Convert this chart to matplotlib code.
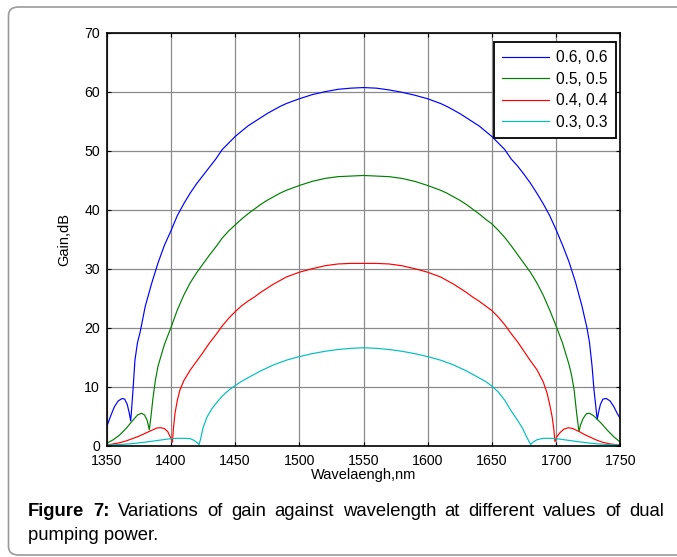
import numpy as np
import matplotlib
matplotlib.use('Agg')
import matplotlib.pyplot as plt
from matplotlib.patches import FancyBboxPatch

plt.rcParams['font.family'] = ['Liberation Sans', 'DejaVu Sans']

# gain curves (wavelength nm, gain dB)
wl_06 = [1350, 1353, 1356, 1359, 1362, 1364, 1366, 1367.5, 1368.7, 1369.5, 1370.5, 1372,
         1374, 1376, 1380, 1385, 1390, 1395, 1400, 1405, 1410, 1415, 1420, 1425, 1430,
         1435, 1440, 1445, 1450, 1455, 1460, 1465, 1470, 1475, 1480, 1485, 1490, 1495,
         1500, 1510, 1520, 1530, 1540, 1550, 1560, 1570, 1580, 1590, 1600, 1605, 1610,
         1615, 1620, 1625, 1630, 1635, 1640, 1645, 1650, 1655, 1660, 1665, 1670, 1675,
         1680, 1685, 1690, 1695, 1700, 1705, 1710, 1715, 1720, 1724, 1726, 1728, 1729.5,
         1731, 1732, 1733, 1734.5, 1736.5, 1739, 1742, 1745, 1748, 1750]
gain_06 = [3.2, 5.0, 6.6, 7.6, 8.0, 7.9, 7.0, 5.6, 4.2, 6.5, 9.5, 14.5,
           17.5, 19.2, 23.6, 27.5, 31.0, 34.0, 36.4, 39.0, 41.0, 42.8, 44.4, 45.8, 47.2,
           48.6, 50.2, 51.3, 52.4, 53.3, 54.2, 54.9, 55.6, 56.3, 56.9, 57.5, 58.0, 58.4,
           58.8, 59.5, 60.0, 60.4, 60.6, 60.7, 60.6, 60.3, 59.9, 59.4, 58.8, 58.4, 58.0,
           57.5, 56.9, 56.3, 55.6, 54.9, 54.2, 53.3, 52.4, 51.3, 50.2, 48.6, 47.4, 46.0,
           44.5, 42.8, 41.0, 39.0, 36.6, 34.0, 31.2, 27.8, 23.8, 20.0, 17.5, 13.5, 9.5,
           6.5, 4.4, 5.6, 7.0, 7.9, 8.0, 7.6, 6.6, 5.3, 4.6]

wl_05 = [1350, 1355, 1360, 1365, 1370, 1374, 1377, 1379.5, 1381.5, 1383.2, 1384.5, 1386,
         1388, 1390, 1395, 1400, 1405, 1410, 1415, 1420, 1425, 1430, 1435, 1440, 1445,
         1450, 1455, 1460, 1465, 1470, 1475, 1480, 1485, 1490, 1495, 1500, 1510, 1520,
         1530, 1540, 1550, 1560, 1570, 1580, 1590, 1600, 1605, 1610, 1615, 1620, 1625,
         1630, 1635, 1640, 1645, 1650, 1655, 1660, 1665, 1670, 1675, 1680, 1685, 1690,
         1695, 1700, 1705, 1710, 1712, 1714, 1716, 1717.8, 1719, 1721, 1723.5, 1726, 1729,
         1732, 1736, 1740, 1745, 1750]
gain_05 = [0.4, 1.0, 1.8, 2.9, 4.2, 5.2, 5.5, 5.2, 4.3, 2.7, 5.0, 8.0,
           11.2, 13.5, 17.2, 20.0, 23.0, 25.5, 27.6, 29.3, 30.8, 32.3, 33.7, 35.2, 36.4,
           37.4, 38.4, 39.3, 40.1, 40.9, 41.6, 42.2, 42.8, 43.3, 43.7, 44.1, 44.8, 45.3,
           45.6, 45.7, 45.8, 45.7, 45.6, 45.3, 44.8, 44.1, 43.7, 43.3, 42.8, 42.2, 41.6,
           40.9, 40.1, 39.3, 38.4, 37.6, 36.5, 35.3, 33.9, 32.4, 30.9, 29.4, 27.6, 25.5,
           23.0, 20.3, 17.4, 13.8, 12.0, 9.5, 5.5, 2.4, 3.5, 4.6, 5.4, 5.5, 5.1,
           4.5, 3.6, 2.6, 1.5, 0.6]

wl_04 = [1350, 1360, 1365, 1370, 1375, 1380, 1385, 1389, 1392, 1395, 1397.5, 1399.5,
         1401.2, 1402, 1403.2, 1405, 1407, 1410, 1415, 1420, 1425, 1430, 1435, 1440, 1445,
         1450, 1455, 1460, 1465, 1470, 1475, 1480, 1485, 1490, 1495, 1500, 1510, 1520,
         1530, 1540, 1550, 1560, 1570, 1580, 1590, 1600, 1605, 1610, 1615, 1620, 1625,
         1630, 1635, 1640, 1645, 1650, 1655, 1660, 1665, 1670, 1675, 1680, 1685, 1690,
         1693, 1695, 1697, 1698.3, 1699.1, 1700.5, 1703, 1706, 1709.5, 1713, 1718, 1722,
         1726, 1731, 1736, 1742, 1750]
gain_04 = [0.1, 0.5, 0.8, 1.2, 1.6, 2.1, 2.6, 3.0, 3.05, 2.9, 2.4, 1.5,
           0.6, 3.0, 5.5, 7.7, 9.4, 11.0, 12.8, 14.3, 15.8, 17.4, 18.8, 20.3, 21.6,
           22.7, 23.7, 24.5, 25.2, 26.0, 26.7, 27.4, 28.0, 28.6, 29.0, 29.4, 30.0, 30.5,
           30.8, 30.9, 30.9, 30.9, 30.8, 30.5, 30.0, 29.4, 29.0, 28.6, 28.0, 27.4, 26.7,
           26.0, 25.2, 24.5, 23.7, 22.9, 21.8, 20.5, 19.0, 17.6, 16.0, 14.4, 12.9, 10.8,
           8.9, 7.0, 4.8, 2.6, 0.7, 1.5, 2.2, 2.8, 3.05, 2.9, 2.4, 1.9,
           1.5, 1.0, 0.6, 0.3, 0.1]

wl_03 = [1350, 1360, 1370, 1380, 1390, 1400, 1405, 1410, 1415, 1418, 1420.5, 1422,
         1423.5, 1425, 1428, 1432, 1436, 1440, 1445, 1450, 1455, 1460, 1465, 1470, 1475,
         1480, 1485, 1490, 1495, 1500, 1510, 1520, 1530, 1540, 1550, 1560, 1570, 1580,
         1590, 1600, 1605, 1610, 1615, 1620, 1625, 1630, 1635, 1640, 1645, 1650, 1655,
         1660, 1665, 1670, 1674, 1677, 1680.2, 1682, 1685, 1690, 1695, 1700, 1710, 1720,
         1730, 1740, 1750]
gain_03 = [0.1, 0.2, 0.35, 0.6, 0.9, 1.2, 1.25, 1.25, 1.2, 0.9, 0.5, 0.2,
           1.5, 3.0, 4.8, 6.3, 7.4, 8.4, 9.4, 10.2, 10.9, 11.5, 12.1, 12.7, 13.2,
           13.7, 14.1, 14.5, 14.8, 15.1, 15.6, 16.0, 16.3, 16.5, 16.6, 16.5, 16.3, 16.0,
           15.6, 15.1, 14.8, 14.5, 14.1, 13.7, 13.2, 12.7, 12.1, 11.5, 10.9, 10.1, 9.1,
           7.7, 5.9, 4.3, 2.9, 1.5, 0.2, 0.6, 1.0, 1.25, 1.25, 1.2, 0.9, 0.6,
           0.35, 0.2, 0.1]

labels = ['0.6, 0.6', '0.5, 0.5', '0.4, 0.4', '0.3, 0.3']
colors = ['#0000ff', '#008000', '#ff0000', '#00bfbf']
x_ticks = [1350, 1400, 1450, 1500, 1550, 1600, 1650, 1700, 1750]
y_ticks = [0, 10, 20, 30, 40, 50, 60, 70]

W, H = 677, 557
fig = plt.figure(figsize=(W / 100, H / 100), dpi=100)

# rounded frame round the whole figure
frame = FancyBboxPatch((8.5 / W, 2 / H), 700 / W, 548 / H,
                       boxstyle='round,pad=0,rounding_size=0.015',
                       transform=fig.transFigure, fill=False,
                       edgecolor='#9a9a9a', linewidth=1.2)
fig.patches.append(frame)

ax = fig.add_axes([106.7 / W, 1 - 445.7 / H, (620.3 - 106.7) / W, (445.7 - 32.7) / H])

series = [(wl_06, gain_06), (wl_05, gain_05), (wl_04, gain_04), (wl_03, gain_03)]
for (wl, g), lab, c in zip(series, labels, colors):
    ax.plot(wl, g, color=c, lw=0.85, label=lab)

ax.set_xlim(1350, 1750)
ax.set_ylim(0, 70)
ax.set_xticks(x_ticks)
ax.set_yticks(y_ticks)
ax.grid(True, color='#8a8a8a', lw=0.9)
ax.set_axisbelow(True)
ax.tick_params(direction='in', length=3, width=0.8, top=True, right=True,
               labelsize=10.2, pad=5, colors='black')
ax.tick_params(axis='x', pad=6)
for s in ax.spines.values():
    s.set_linewidth(1.2)

ax.set_xlabel('Wavelaengh,nm', fontsize=10.5, labelpad=0)
ax.set_ylabel('Gain,dB', fontsize=10.5, labelpad=9)

leg = ax.legend(loc='upper right', bbox_to_anchor=(616 / W, 1 - 41.7 / H),
                bbox_transform=fig.transFigure, borderaxespad=0,
                fancybox=False, framealpha=1, edgecolor='black',
                fontsize=11.2, handlelength=3.0, handletextpad=0.45,
                labelspacing=0.42, borderpad=0.55)
leg.get_frame().set_linewidth(1.3)

# caption, first line justified
fig.canvas.draw()
r = fig.canvas.get_renderer()
words = [('Figure', 'bold'), ('7:', 'bold'), ('Variations', 'normal'), ('of', 'normal'),
         ('gain', 'normal'), ('against', 'normal'), ('wavelength', 'normal'), ('at', 'normal'),
         ('different', 'normal'), ('values', 'normal'), ('of', 'normal'), ('dual', 'normal')]
left, right = 28 / W, 664 / W
y1 = 1 - 511 / H
txts = [fig.text(0, y1, w, fontsize=13.3, fontweight=fw, va='center', ha='left') for w, fw in words]
widths = [t.get_window_extent(r).width / W for t in txts]
gap = (right - left - sum(widths)) / (len(words) - 1)
x = left
for t, wd in zip(txts, widths):
    t.set_x(x)
    x += wd + gap
fig.text(left, 1 - 535 / H, 'pumping power.', fontsize=13.3, va='center', ha='left')

fig.savefig('out.png', dpi=100)
